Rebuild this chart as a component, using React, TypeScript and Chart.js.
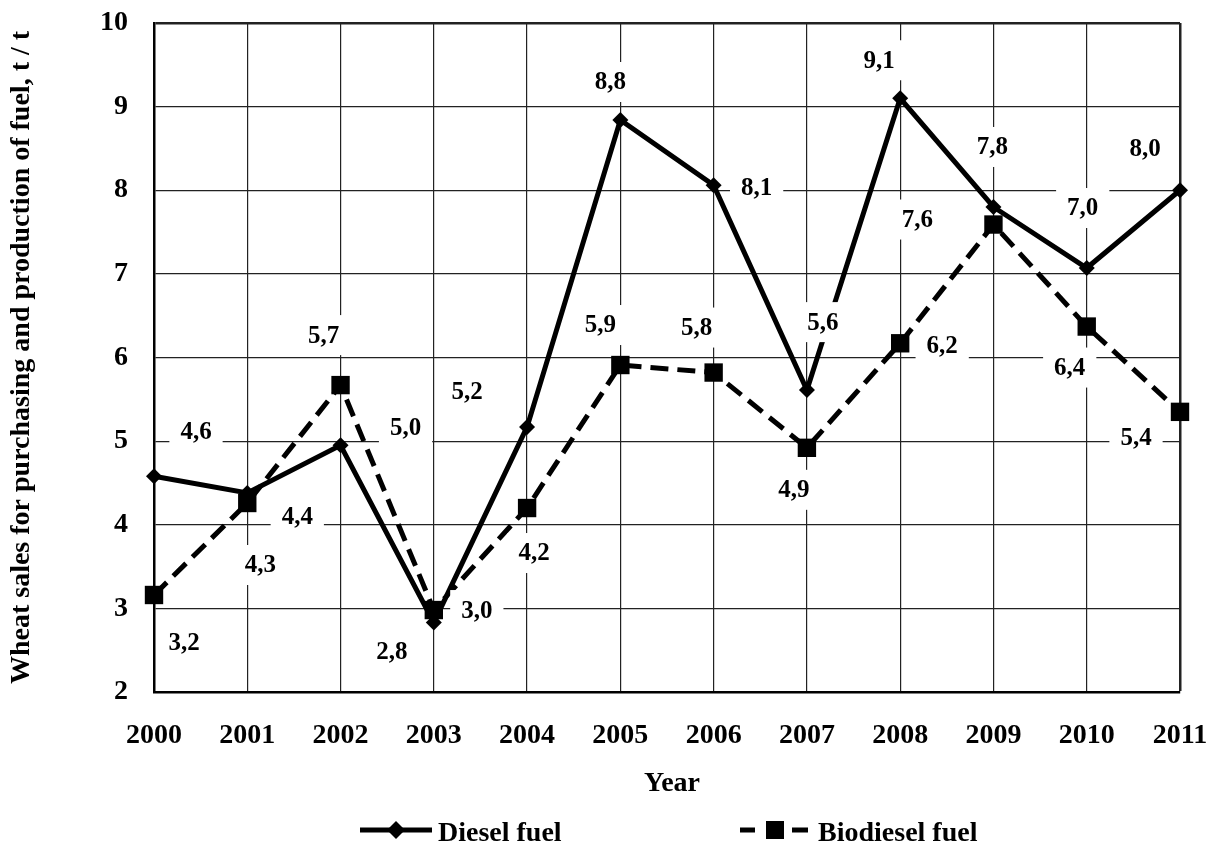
import React, { useEffect, useRef } from "react";
import { Chart, registerables } from "chart.js";

Chart.register(...registerables);

const years = ["2000", "2001", "2002", "2003", "2004", "2005", "2006", "2007", "2008", "2009", "2010", "2011"];
const dieselValues = [4.58, 4.38, 4.95, 2.83, 5.17, 8.84, 8.06, 5.61, 9.1, 7.8, 7.07, 8.0];
const biodieselValues = [3.16, 4.26, 5.67, 2.98, 4.2, 5.91, 5.82, 4.92, 6.17, 7.59, 6.37, 5.35];
const dieselLabels = ["4,6", "4,4", "5,0", "2,8", "5,2", "8,8", "8,1", "5,6", "9,1", "7,8", "7,0", "8,0"];
const biodieselLabels = ["3,2", "4,3", "5,7", "3,0", "4,2", "5,9", "5,8", "4,9", "6,2", "7,6", "6,4", "5,4"];
// label placement offsets (px) relative to each point
const dieselLabelOffsets = [[42, -45], [50, 24], [65, -18], [-42, 29], [-60, -35], [-10, -38], [43, 2], [16, -68], [-21, -38], [-1, -60], [-4, -60], [-35, -42]];
const biodieselLabelOffsets = [[30, 48], [13, 62], [-17, -50], [43, 0], [7, 45], [-20, -40], [-17, -45], [-13, 42], [42, 2], [-76, -5], [-17, 41], [-44, 26]];
const seriesNames = ["Diesel fuel", "Biodiesel fuel"];
const yTitle = "Wheat sales for purchasing and production of fuel, t / t";
const xTitle = "Year";

const FONT = '"Liberation Serif", "Times New Roman", serif';

const labelsPlugin = {
  id: "valueLabels",
  afterDatasetsDraw(chart: any) {
    const ctx = chart.ctx;
    ctx.save();
    ctx.font = `bold 25px ${FONT}`;
    ctx.textAlign = "center";
    ctx.textBaseline = "middle";
    chart.data.datasets.forEach((_ds: any, di: number) => {
      const meta = chart.getDatasetMeta(di);
      const texts = di === 0 ? dieselLabels : biodieselLabels;
      const offs = di === 0 ? dieselLabelOffsets : biodieselLabelOffsets;
      meta.data.forEach((pt: any, i: number) => {
        const x = pt.x + offs[i][0];
        const y = pt.y + offs[i][1];
        const w = ctx.measureText(texts[i]).width + 22;
        ctx.fillStyle = "#fff";
        ctx.fillRect(x - w / 2, y - 20, w, 40);
        ctx.fillStyle = "#000";
        ctx.fillText(texts[i], x, y + 1);
      });
    });
    ctx.restore();
  },
};

const decorPlugin = {
  id: "decor",
  afterDraw(chart: any) {
    const ctx = chart.ctx;
    const area = chart.chartArea;
    const cx = (area.left + area.right) / 2;
    const cy = (area.top + area.bottom) / 2;
    ctx.save();
    ctx.fillStyle = "#000";
    ctx.strokeStyle = "#000";
    // y title
    ctx.font = `bold 28px ${FONT}`;
    ctx.save();
    ctx.translate(22, cy);
    ctx.rotate(-Math.PI / 2);
    ctx.textAlign = "center";
    ctx.textBaseline = "middle";
    ctx.fillText(yTitle, 0, 0);
    ctx.restore();
    // x title
    ctx.textAlign = "center";
    ctx.textBaseline = "middle";
    ctx.fillText(xTitle, cx + 5, 784);
    // legend
    const ly = 830;
    const start = cx - 307;
    ctx.lineWidth = 5;
    ctx.setLineDash([]);
    ctx.beginPath();
    ctx.moveTo(start, ly);
    ctx.lineTo(start + 72, ly);
    ctx.stroke();
    const dx = start + 36;
    ctx.beginPath();
    ctx.moveTo(dx, ly - 9);
    ctx.lineTo(dx + 9, ly);
    ctx.lineTo(dx, ly + 9);
    ctx.lineTo(dx - 9, ly);
    ctx.closePath();
    ctx.fill();
    ctx.textAlign = "left";
    ctx.textBaseline = "alphabetic";
    ctx.fillText(seriesNames[0], start + 78, 841);
    const b = start + 380;
    ctx.beginPath();
    ctx.moveTo(b, ly);
    ctx.lineTo(b + 15, ly);
    ctx.moveTo(b + 52, ly);
    ctx.lineTo(b + 68, ly);
    ctx.stroke();
    ctx.fillRect(b + 26, ly - 9, 18, 18);
    ctx.fillText(seriesNames[1], b + 78, 841);
    ctx.restore();
  },
};

export default function App() {
  const ref = useRef<HTMLCanvasElement>(null);
  useEffect(() => {
    document.body.style.margin = "0";
    const chart = new Chart(ref.current as HTMLCanvasElement, {
      type: "line",
      data: {
        labels: years,
        datasets: [
          {
            label: seriesNames[0],
            data: dieselValues,
            borderColor: "#000",
            backgroundColor: "#000",
            borderWidth: 5,
            tension: 0,
            pointStyle: "rectRot",
            pointRadius: 8,
            pointBorderWidth: 0,
            pointBackgroundColor: "#000",
            clip: false,
          },
          {
            label: seriesNames[1],
            data: biodieselValues,
            borderColor: "#000",
            backgroundColor: "#000",
            borderWidth: 5,
            borderDash: [18, 9],
            tension: 0,
            pointStyle: "rect",
            pointRadius: 13,
            pointBorderWidth: 0,
            pointBackgroundColor: "#000",
            clip: false,
          },
        ],
      },
      options: {
        animation: false,
        responsive: true,
        maintainAspectRatio: false,
        events: [],
        layout: { padding: { left: 0, top: 23, right: 31, bottom: 0 } },
        plugins: { legend: { display: false }, tooltip: { enabled: false } },
        scales: {
          x: {
            offset: false,
            afterFit: (s: any) => {
              s.height = 151;
              s.paddingLeft = 0;
              s.paddingRight = 0;
            },
            grid: {
              color: "#222",
              lineWidth: (c: any) => (c.index === years.length - 1 ? 2.5 : 1.2),
              drawTicks: false,
            },
            border: { color: "#000", width: 2.5 },
            ticks: { color: "#000", padding: 27, font: { family: FONT, size: 28, weight: "bold" }, maxRotation: 0, autoSkip: false },
          },
          y: {
            min: 2,
            max: 10,
            afterFit: (s: any) => {
              s.width = 154;
              s.paddingTop = 0;
              s.paddingBottom = 0;
            },
            grid: {
              color: "#222",
              lineWidth: (c: any) => (c.tick && c.tick.value === 10 ? 2.5 : 1.2),
              drawTicks: false,
            },
            border: { color: "#000", width: 2.5 },
            ticks: { color: "#000", padding: 26, stepSize: 1, font: { family: FONT, size: 28, weight: "bold" } },
          },
        },
      },
      plugins: [labelsPlugin, decorPlugin],
    } as any);
    return () => chart.destroy();
  }, []);
  return (
    <div style={{ width: 1211, height: 843, position: "relative" }}>
      <canvas ref={ref} />
    </div>
  );
}
